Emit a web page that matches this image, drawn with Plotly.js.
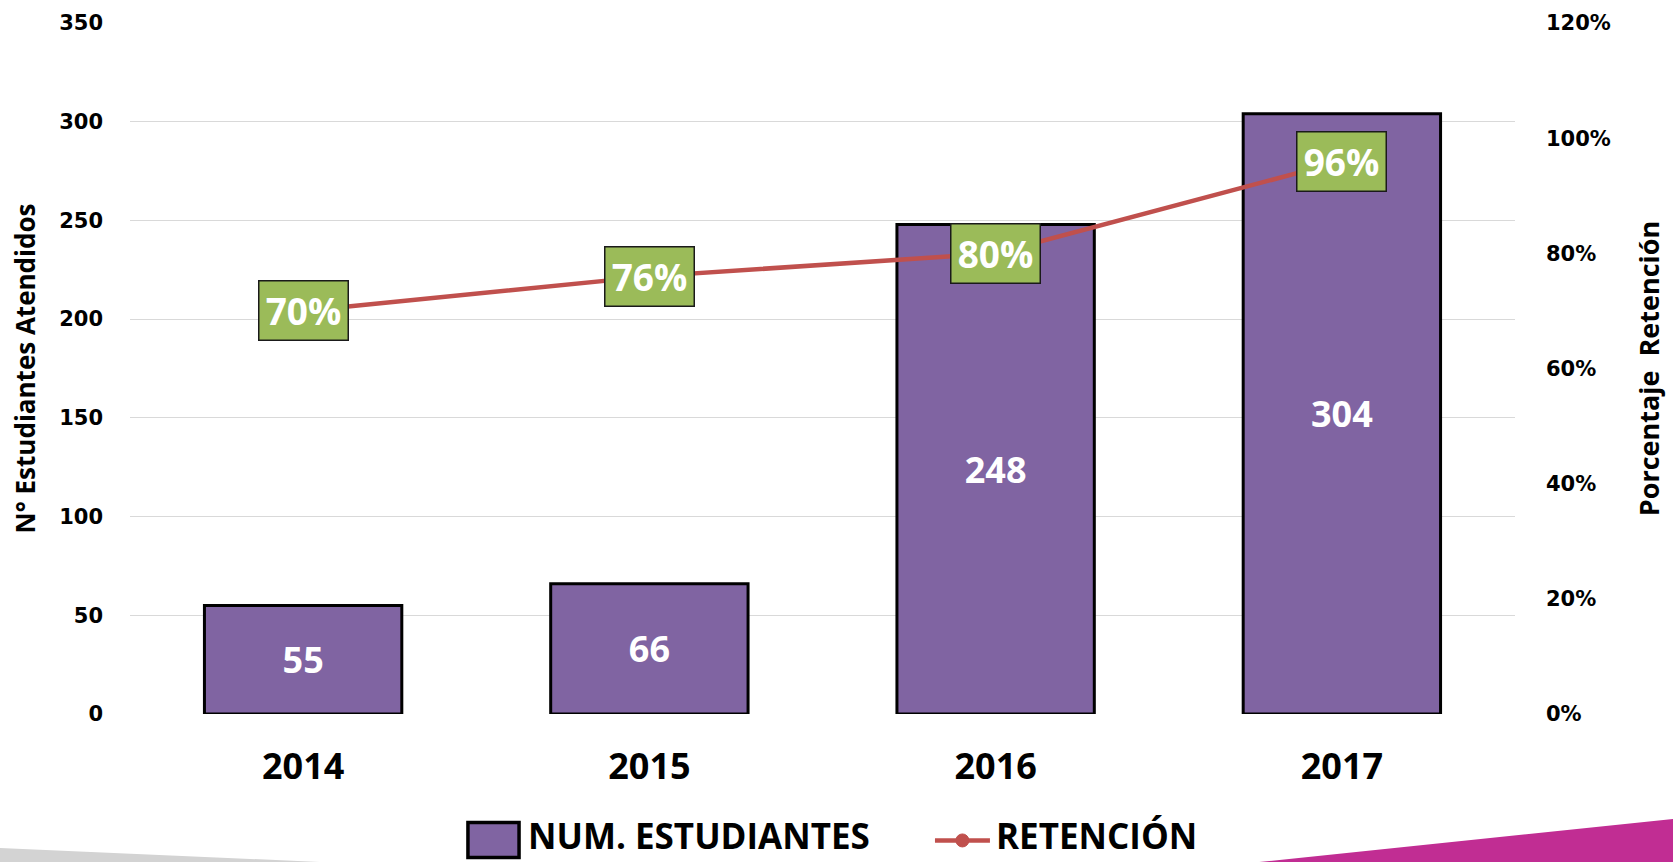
<!DOCTYPE html>
<html>
<head>
<meta charset="utf-8">
<script src="https://cdn.plot.ly/plotly-3.0.1.min.js"></script>
<style>
html,body{margin:0;padding:0;background:#fff;}
#chart{width:1673px;height:862px;}
</style>
</head>
<body>
<div id="chart"></div>
<script>
const years = ['2014', '2015', '2016', '2017'];
const students = [55, 66, 248, 304];
const retention = [0.70, 0.76, 0.80, 0.96];
const retentionLabels = ['70%', '76%', '80%', '96%'];
const leftTicks = [0, 50, 100, 150, 200, 250, 300, 350];
const rightTicks = [0, 0.2, 0.4, 0.6, 0.8, 1.0, 1.2];
const rightTickText = ['0%', '20%', '40%', '60%', '80%', '100%', '120%'];
const seriesNames = ['NUM. ESTUDIANTES', 'RETENCIÓN'];

const purple = '#8064A2';
const red = '#C0504D';
const green = '#9BBB59';
const labelFont = 'Open Sans, Noto Sans, sans-serif';
const tickFont = 'Verdana, DejaVu Sans, sans-serif';

const barTrace = {
  type: 'bar',
  name: seriesNames[0],
  x: years,
  y: students,
  text: students.map(String),
  textposition: 'inside',
  insidetextanchor: 'middle',
  textangle: 0,
  textfont: {family: labelFont, size: 36, color: '#ffffff', weight: 'bold'},
  marker: {color: purple, line: {color: '#000000', width: 3}},
  hoverinfo: 'x+y'
};

const lineTrace = {
  type: 'scatter',
  mode: 'lines+markers',
  name: seriesNames[1],
  x: years,
  y: retention,
  yaxis: 'y2',
  line: {color: red, width: 4.5},
  marker: {color: red, size: 11},
  hoverinfo: 'x+y'
};

// value labels on the retention line (x given as category index)
const annotations = years.map((yr, i) => ({
  x: i, y: retention[i], xref: 'x', yref: 'y2',
  text: retentionLabels[i], showarrow: false,
  font: {family: labelFont, size: 37, color: '#ffffff', weight: 'bold'},
  bgcolor: green, bordercolor: '#1a1a1a', borderwidth: 1.5,
  width: 86, height: 56, xanchor: 'center', yanchor: 'middle'
}));

// custom legend texts
annotations.push({
  xref: 'paper', yref: 'paper', x: 0.2859, y: -0.2124, xanchor: 'left', yanchor: 'bottom',
  text: seriesNames[0], showarrow: false,
  font: {family: labelFont, size: 35, color: '#000000', weight: 'bold'}
});
annotations.push({
  xref: 'paper', yref: 'paper', x: 0.6238, y: -0.2124, xanchor: 'left', yanchor: 'bottom',
  text: seriesNames[1], showarrow: false,
  font: {family: labelFont, size: 35, color: '#000000', weight: 'bold'}
});

const layout = {
  width: 1673, height: 862,
  paper_bgcolor: '#ffffff', plot_bgcolor: '#ffffff',
  margin: {l: 130, r: 158, t: 23, b: 148, autoexpand: false},
  bargap: 0.43,
  showlegend: false,
  xaxis: {
    type: 'category', range: [-0.5, years.length - 0.5],
    tickfont: {family: labelFont, size: 36, color: '#000000', weight: 'bold'},
    showgrid: false, showline: false, ticks: '', zeroline: false,
    ticklabelstandoff: 28
  },
  yaxis: {
    range: [0, 350], tickvals: leftTicks, ticktext: leftTicks.map(String),
    tickfont: {family: tickFont, size: 21, color: '#000000', weight: 'bold'},
    showgrid: true, gridcolor: '#D9D9D9', gridwidth: 1.3, zeroline: false,
    showline: false, ticks: '', ticklabelstandoff: 26,
    title: {text: 'N° Estudiantes Atendidos', standoff: 16,
      font: {family: labelFont, size: 26, color: '#000000', weight: 'bold'}}
  },
  yaxis2: {
    overlaying: 'y', side: 'right',
    range: [0, 1.2], tickvals: rightTicks, ticktext: rightTickText,
    tickfont: {family: tickFont, size: 21, color: '#000000', weight: 'bold'},
    showgrid: false, zeroline: false, showline: false, ticks: '',
    ticklabelstandoff: 30,
    title: {text: 'Porcentaje  Retención', standoff: 30,
      font: {family: labelFont, size: 27, color: '#000000', weight: 'bold'}}
  },
  annotations: annotations,
  shapes: [
    {type: 'path', xref: 'paper', yref: 'paper', layer: 'below',
     path: 'M -0.0939,-0.1939 L 0.1372,-0.2142 L -0.0939,-0.2142 Z',
     fillcolor: '#D3D3D3', line: {width: 0}},
    {type: 'path', xref: 'paper', yref: 'paper', layer: 'below',
     path: 'M 0.8153,-0.2142 L 1.1141,-0.1520 L 1.1141,-0.2142 Z',
     fillcolor: '#C12D93', line: {width: 0}},
    // legend: bar swatch
    {type: 'rect', xref: 'paper', yref: 'paper',
     x0: 0.2440, x1: 0.2809, y0: -0.1570, y1: -0.2075,
     fillcolor: purple, line: {color: '#000000', width: 3.5}},
    // legend: line + marker
    {type: 'line', xref: 'paper', yref: 'paper',
     x0: 0.5812, x1: 0.6209, y0: -0.1830, y1: -0.1830,
     line: {color: red, width: 4.5}},
    {type: 'circle', xref: 'paper', yref: 'paper', xsizemode: 'pixel', ysizemode: 'pixel',
     xanchor: 0.6010, yanchor: -0.1830, x0: -6.5, x1: 6.5, y0: -6.5, y1: 6.5,
     fillcolor: red, line: {color: red, width: 1}}
  ]
};

Plotly.newPlot('chart', [barTrace, lineTrace], layout, {displayModeBar: false, responsive: false});
</script>
</body>
</html>
